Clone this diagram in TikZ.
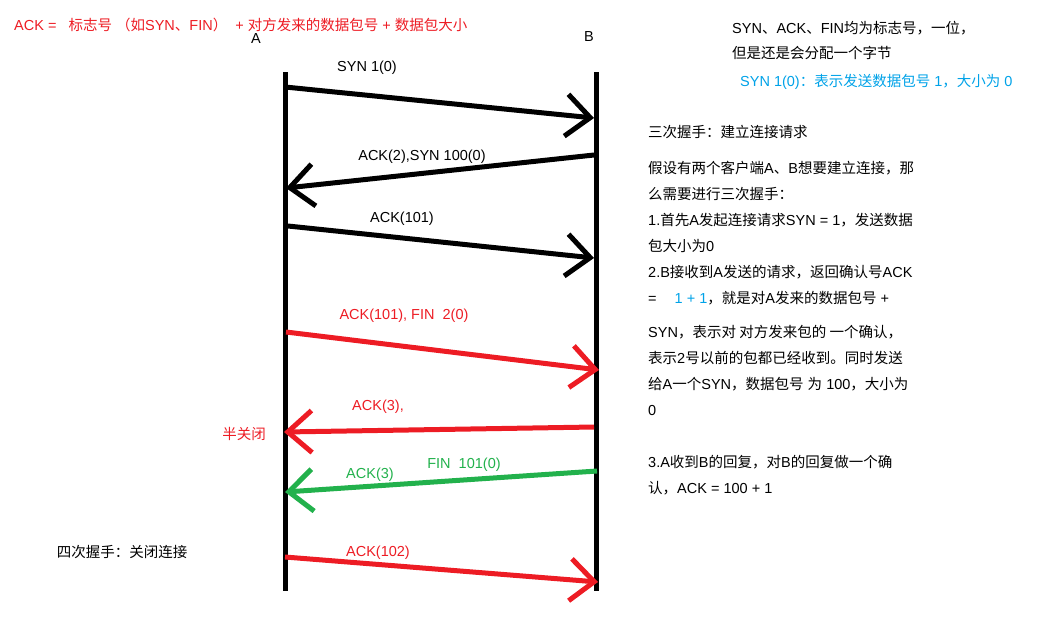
\documentclass[tikz,border=0pt]{standalone}
\usepackage{fontspec}
\setmainfont{Noto Sans CJK SC}
\newfontfamily\latfont{Liberation Sans}
\newcommand\en[1]{{\latfont #1}}
\usetikzlibrary{arrows.meta}
\definecolor{pred}{RGB}{237,28,36}
\definecolor{pgreen}{RGB}{34,177,76}
\definecolor{pblue}{RGB}{0,162,232}

\begin{document}
\begin{tikzpicture}[x=1pt, y=-1pt,
  lifeline/.style={line width=5pt},
  msg/.style={line width=5pt, -{Straight Barb[length=24pt,width=42pt]}},
  txt/.style={anchor=west, inner sep=0pt, text height=10.5pt, text depth=3pt,
    font=\fontsize{14.5}{17}\selectfont},
  lbl/.style={txt, anchor=center, font=\fontsize{14.5}{17}\selectfont\latfont}]
\useasboundingbox (0,0) rectangle (1060,625);

% lifelines
\node[lbl] (A) at (256,40) {A};
\node[lbl] (B) at (589,38) {B};
\coordinate (Atop) at (285,72);
\coordinate (Abot) at (285,591);
\coordinate (Btop) at (596,72);
\coordinate (Bbot) at (596,591);
\draw[lifeline] (Atop) -- (Abot);
\draw[lifeline] (Btop) -- (Bbot);

% three-way handshake
\coordinate (m1a) at (285,87);
\coordinate (m1b) at (594,118);
\coordinate (m2b) at (594,155);
\coordinate (m2a) at (286,188);
\coordinate (m3a) at (288,226);
\coordinate (m3b) at (594,258);
\draw[msg] (m1a) -- (m1b);
\draw[msg] (m2b) -- (m2a);
\draw[msg] (m3a) -- (m3b);
\node[lbl] (l1) at (367,68) {SYN 1(0)};
\node[lbl] (l2) at (422,157) {ACK(2),SYN 100(0)};
\node[lbl] (l3) at (402,219) {ACK(101)};

% four-way handshake
\coordinate (m4a) at (286,332);
\coordinate (m4b) at (599,370);
\coordinate (m5b) at (594,427);
\coordinate (m5a) at (284,432);
\coordinate (m6b) at (597,471);
\coordinate (m6a) at (285,492);
\coordinate (m7a) at (285,557);
\coordinate (m7b) at (598,582);
\draw[msg, pred] (m4a) -- (m4b);
\draw[msg, pred] (m5b) -- (m5a);
\draw[msg, pgreen] (m6b) -- (m6a);
\draw[msg, pred] (m7a) -- (m7b);
\node[lbl, pred] (l4) at (404,316) {ACK(101), FIN\ \ 2(0)};
\node[lbl, pred] (l5) at (378,407) {ACK(3),};
\node[txt, pred, anchor=center] (half) at (244,436) {半关闭};
\node[lbl, pgreen] (l6a) at (370,475) {ACK(3)};
\node[lbl, pgreen] (l6b) at (464,465) {FIN\ \ 101(0)};
\node[lbl, pred] (l7) at (378,553) {ACK(102)};
\node[txt, anchor=center] (four) at (122,554) {四次握手：关闭连接};

% notes
\node[txt, pred] (ackdef) at (14,27) {\en{ACK =\ \ \ }标志号\en{ }（如\en{SYN}、\en{FIN}）\en{\ \ + }对方发来的数据包号\en{ + }数据包大小};
\node[txt] (n1) at (732,30) {\en{SYN}、\en{ACK}、\en{FIN}均为标志号，一位，};
\node[txt] (n2) at (732,55) {但是还是会分配一个字节};
\node[txt, pblue] (n3) at (740,83) {\en{SYN 1(0)}：表示发送数据包号\en{ 1}，大小为\en{ 0}};
\node[txt] (t0) at (648,134) {三次握手：建立连接请求};
\node[txt] (t1) at (648,170) {假设有两个客户端\en{A}、\en{B}想要建立连接，那};
\node[txt] (t2) at (648,196) {么需要进行三次握手：};
\node[txt] (t3) at (648,222) {\en{1.}首先\en{A}发起连接请求\en{SYN = 1}，发送数据};
\node[txt] (t4) at (648,248) {包大小为\en{0}};
\node[txt] (t5) at (648,274) {\en{2.B}接收到\en{A}发送的请求，返回确认号\en{ACK}};
\node[txt] (t6) at (648,300) {\en{=\hspace{18pt}{\color{pblue}1 + 1}}，就是对\en{A}发来的数据包号\en{ +}};
\node[txt] (t7) at (648,334) {\en{SYN}，表示对 对方发来包的 一个确认，};
\node[txt] (t8) at (648,360) {表示\en{2}号以前的包都已经收到。同时发送};
\node[txt] (t9) at (648,386) {给\en{A}一个\en{SYN}，数据包号\en{ }为\en{ 100}，大小为};
\node[txt] (t10) at (648,412) {\en{0}};
\node[txt] (t11) at (648,464) {\en{3.A}收到\en{B}的回复，对\en{B}的回复做一个确};
\node[txt] (t12) at (648,490) {认，\en{ACK = 100 + 1}};

\end{tikzpicture}
\end{document}
